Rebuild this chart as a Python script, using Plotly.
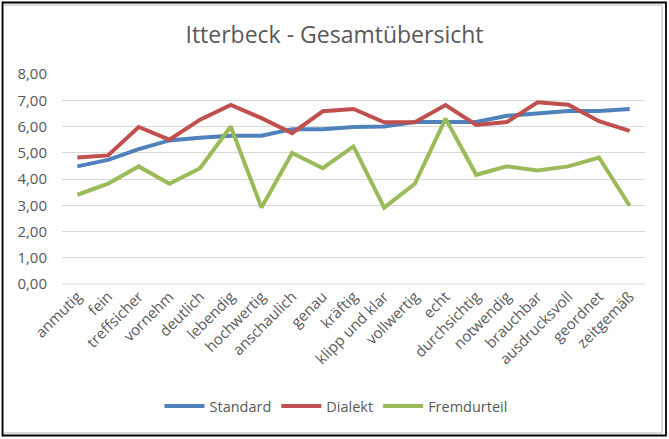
import plotly.graph_objects as go

categories = ["anmutig", "fein", "treffsicher", "vornehm", "deutlich", "lebendig",
              "hochwertig", "anschaulich", "genau", "kräftig", "klipp und klar",
              "vollwertig", "echt", "durchsichtig", "notwendig", "brauchbar",
              "ausdrucksvoll", "geordnet", "zeitgemäß"]
standard = [4.48, 4.73, 5.14, 5.47, 5.57, 5.65, 5.65, 5.90, 5.90, 5.98, 6.00,
            6.17, 6.17, 6.17, 6.41, 6.51, 6.59, 6.59, 6.67]
dialekt = [4.82, 4.90, 5.98, 5.50, 6.26, 6.82, 6.32, 5.75, 6.58, 6.67, 6.16,
           6.16, 6.82, 6.06, 6.17, 6.92, 6.83, 6.20, 5.83]
fremdurteil = [3.40, 3.82, 4.48, 3.82, 4.41, 6.00, 2.91, 4.99, 4.41, 5.24, 2.91,
               3.82, 6.30, 4.16, 4.48, 4.32, 4.48, 4.82, 2.98]
y_ticks = [0, 1, 2, 3, 4, 5, 6, 7, 8]

series = [("Standard", standard, "#4f81bd"),
          ("Dialekt", dialekt, "#c0504d"),
          ("Fremdurteil", fremdurteil, "#9bbb59")]

fig = go.Figure()
for name, vals, col in series:
    fig.add_trace(go.Scatter(x=categories, y=vals, mode="lines", name=name,
                             line=dict(color=col, width=4)))

W, H = 669, 439
L, R, T, B = 62, 24, 74, 155
pw, ph = W - L - R, H - T - B

def px(x):
    return (x - L) / pw

def py(y):
    return (H - B - y) / ph

fig.update_layout(
    width=W, height=H,
    margin=dict(l=L, r=R, t=T, b=B, autoexpand=False),
    paper_bgcolor="white", plot_bgcolor="white",
    separators=",.",
    font=dict(family="Open Sans, Lato, sans-serif", color="#595959", size=14),
    title=dict(text="Itterbeck - Gesamtübersicht", x=0.5, xanchor="center",
               y=1 - 35 / H, yanchor="middle",
               font=dict(size=23, color="#595959", family="Open Sans, sans-serif")),
    xaxis=dict(type="category", range=[-0.5, len(categories) - 0.5],
               tickangle=-45, showgrid=False, showline=False, ticks="",
               automargin=False,
               tickfont=dict(size=15, color="#595959"), fixedrange=True),
    yaxis=dict(range=[0, 8], tickvals=y_ticks, tickformat=".2f",
               showgrid=True, gridcolor="#d9d9d9", gridwidth=1,
               zeroline=False, showline=False, ticks="", automargin=False,
               ticklabelstandoff=14, fixedrange=True,
               tickfont=dict(size=15, color="#595959")),
    legend=dict(orientation="h", x=0.47, xanchor="center", y=py(406), yanchor="middle",
                font=dict(size=14.5, color="#595959"), itemwidth=40,
                tracegroupgap=0),
    shapes=[
        dict(type="line", xref="paper", yref="paper", x0=0, x1=1, y0=0, y1=0,
             line=dict(color="#d9d9d9", width=1)),
        dict(type="rect", xref="paper", yref="paper",
             x0=px(3), x1=px(662), y0=py(433), y1=py(5),
             line=dict(color="#d0d0d0", width=1.5)),
        dict(type="rect", xref="paper", yref="paper",
             x0=px(2.5), x1=px(666), y0=py(435.5), y1=py(2.5),
             line=dict(color="black", width=1.8)),
    ],
)

fig.write_html("out.html", config={"displayModeBar": False},
               post_script="document.body.style.margin='0';document.body.style.padding='0';document.body.style.overflow='hidden';")
